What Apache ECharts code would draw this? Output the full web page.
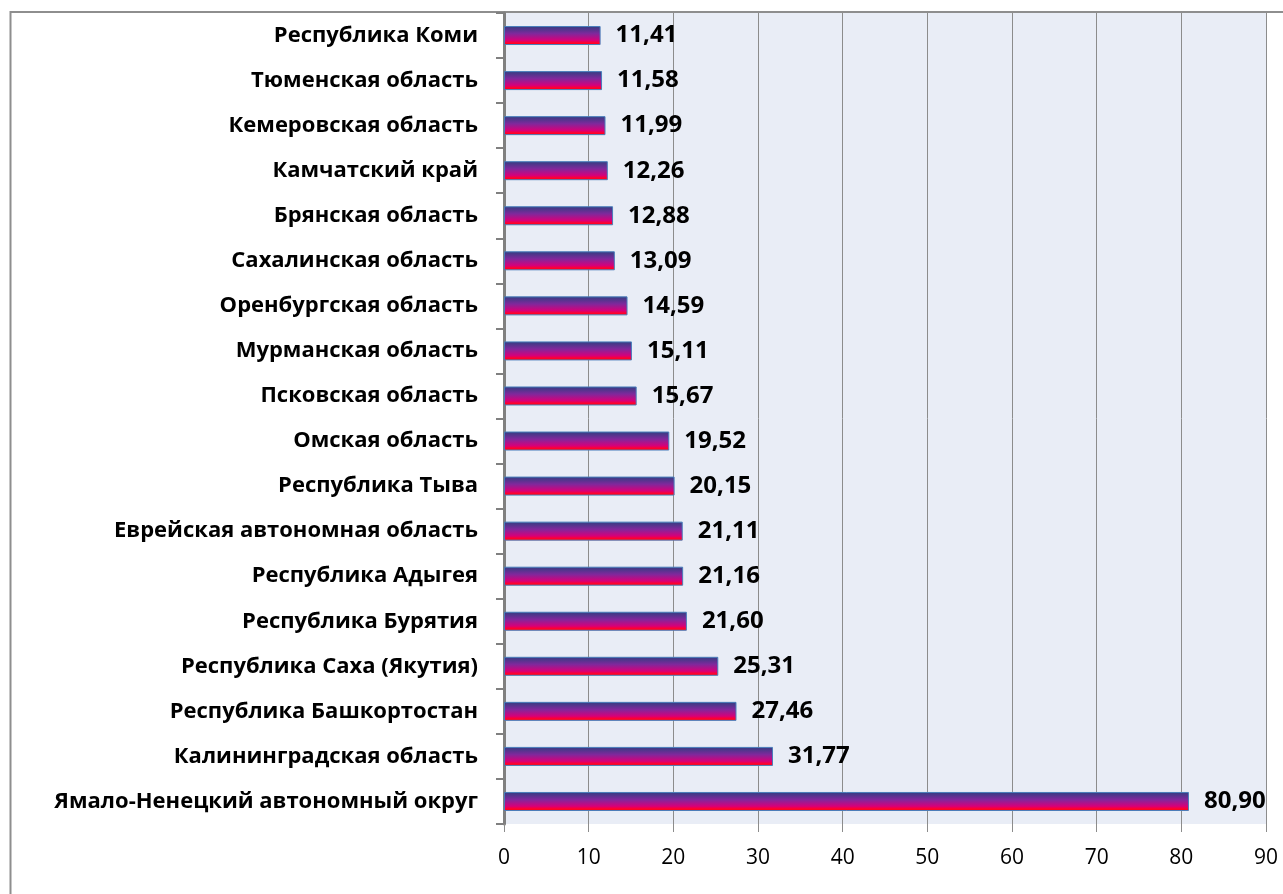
<!DOCTYPE html>
<html>
<head>
<meta charset="utf-8">
<script src="https://cdn.jsdelivr.net/npm/echarts@6/dist/echarts.min.js"></script>
<style>
  html, body { margin: 0; padding: 0; background: #fff; }
  #chart { width: 1283px; height: 894px; }
</style>
</head>
<body>
<div id="chart"></div>
<script>
// регионы сверху вниз
var regions = [
  'Республика Коми',
  'Тюменская область',
  'Кемеровская область',
  'Камчатский край',
  'Брянская область',
  'Сахалинская область',
  'Оренбургская область',
  'Мурманская область',
  'Псковская область',
  'Омская область',
  'Республика Тыва',
  'Еврейская автономная область',
  'Республика Адыгея',
  'Республика Бурятия',
  'Республика Саха (Якутия)',
  'Республика Башкортостан',
  'Калининградская область',
  'Ямало-Ненецкий автономный округ'
];
var values = [11.41, 11.58, 11.99, 12.26, 12.88, 13.09, 14.59, 15.11, 15.67,
  19.52, 20.15, 21.11, 21.16, 21.60, 25.31, 27.46, 31.77, 80.90];
var xTicks = [0, 10, 20, 30, 40, 50, 60, 70, 80, 90];

var font = '"Open Sans", sans-serif';

var chart = echarts.init(document.getElementById('chart'));
chart.setOption({
  animation: false,
  graphic: [{
    type: 'rect',
    shape: { x: 10.5, y: 12, width: 1400, height: 1000 },
    style: { fill: 'none', stroke: '#8e8e8e', lineWidth: 2 },
    z: -10
  }],
  grid: {
    left: 504,
    right: 17,
    top: 13,
    bottom: 70,
    show: true,
    backgroundColor: '#e9edf6',
    borderWidth: 0
  },
  xAxis: {
    type: 'value',
    min: xTicks[0],
    max: xTicks[xTicks.length - 1],
    interval: 10,
    axisLine: { show: false },
    axisTick: { show: true, length: 8, lineStyle: { color: '#8c8c8c', width: 1 } },
    axisLabel: { color: '#000', fontSize: 21, fontFamily: font, margin: 24 },
    splitLine: { show: true, lineStyle: { color: '#8c8c8c', width: 1 } }
  },
  yAxis: {
    type: 'category',
    inverse: true,
    data: regions,
    axisLine: { show: true, lineStyle: { color: '#808080', width: 3 } },
    axisTick: { show: true, length: 8, lineStyle: { color: '#808080', width: 2 } },
    axisLabel: { color: '#000', fontSize: 22, fontWeight: 'bold', fontFamily: font, margin: 26 }
  },
  series: [{
    type: 'bar',
    data: values,
    barWidth: 19,
    itemStyle: {
      borderColor: '#4a7ebb',
      borderWidth: 1,
      color: new echarts.graphic.LinearGradient(0, 0, 0, 1, [
        { offset: 0, color: '#2f3f80' },
        { offset: 0.4, color: '#80289c' },
        { offset: 0.75, color: '#d6007a' },
        { offset: 0.88, color: '#ff0030' },
        { offset: 1, color: '#ff0000' }
      ])
    },
    label: {
      show: true,
      position: 'right',
      distance: 15,
      color: '#000',
      fontSize: 24,
      fontWeight: 'bold',
      fontFamily: font,
      formatter: function (p) { return p.value.toFixed(2).replace('.', ','); }
    }
  }]
});
</script>
</body>
</html>
